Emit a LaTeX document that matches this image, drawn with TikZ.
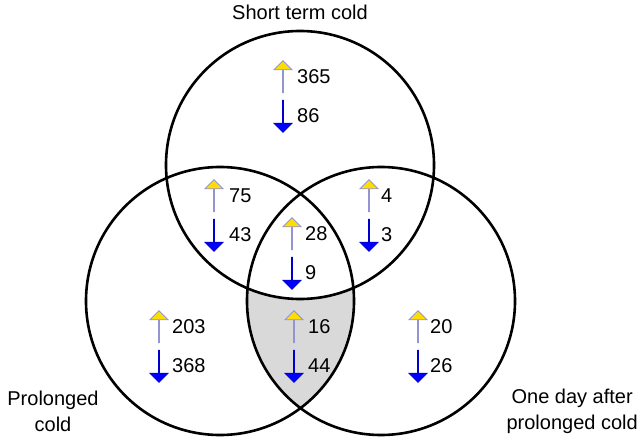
\documentclass[tikz,border=0pt]{standalone}
\usepackage{fontspec}
\setmainfont{Liberation Sans}
\usetikzlibrary{shapes.arrows}

\begin{document}
\begin{tikzpicture}[
        x=1pt, y=-1pt,
        set/.style={line width=2.6pt},
        arr/.style={single arrow, minimum height=32pt, minimum width=18pt, inner xsep=0pt, inner ysep=5pt, single arrow head indent=0pt, line width=0.8pt},
        uparr/.style={arr, draw=gray!60!blue!60, fill=yellow!80!orange, shape border rotate=90},
        downarr/.style={arr, draw=blue!80!black, fill=blue, shape border rotate=270},
        count/.style={anchor=west, inner sep=0pt, font=\fontsize{20}{22}\selectfont},
        title/.style={align=center, inner sep=0pt, font=\fontsize{20}{26}\selectfont}
    ]
        \useasboundingbox (0,0) rectangle (640,438);

        % shaded region: prolonged and one day after, not short term
        \begin{scope}
            \clip (220,301) circle (134);
            \fill[gray!30] (381,301) circle (134);
            \fill[white] (300,165) circle (134);
        \end{scope}

        \draw[set] (300,165) circle (134);
        \draw[set] (220,301) circle (134);
        \draw[set] (381,301) circle (134);

        \node[title] (short) at (300,12) {Short term cold};
        \node[title] (prolonged) at (53,411) {Prolonged\\cold};
        \node[title, anchor=east] (oneday) at (638,411) {One day after\\prolonged cold};

        % up / down counts per region
        \foreach \name/\ax/\tx/\ay/\up/\down in {
            st/283/297/77/365/86,
            sp/214/229/196/75/43,
            so/369/381/196/4/3,
            all/292/305/234/28/9,
            pr/159/172/327/203/368,
            po/294/308/327/16/44,
            od/418/430/327/20/26}
        {
            \node[uparr] (up-\name) at (\ax,\ay) {};
            \node[downarr] (down-\name) at (\ax,\ay+39) {};
            \node[count] (nup-\name) at (\tx,\ay) {\up};
            \node[count] (ndown-\name) at (\tx,\ay+39) {\down};
        }
    \end{tikzpicture}
\end{document}
